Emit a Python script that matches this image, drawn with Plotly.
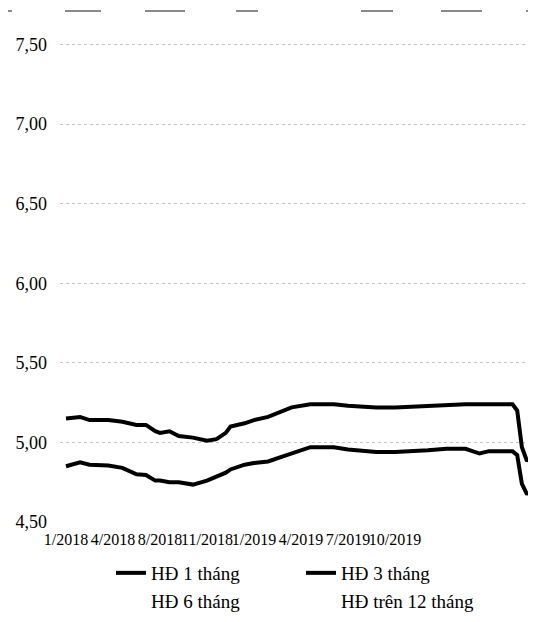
import plotly.graph_objects as go

# ---- data ----
TICK_POS = [0, 10, 20, 30, 40, 50, 60, 70]
TICK_LABELS = ["1/2018", "4/2018", "8/2018", "11/2018", "1/2019", "4/2019", "7/2019", "10/2019"]

PERIOD = [0, 3, 5, 9, 12, 15, 17, 19, 20, 22, 24, 27, 30, 32, 34, 35, 38, 40, 43, 46,
          48, 52, 57, 60, 66, 70, 77, 81, 85, 88, 90, 95, 96, 97, 98, 100]

HD_1_THANG = [4.85, 4.875, 4.86, 4.855, 4.84, 4.80, 4.795, 4.76, 4.76, 4.75, 4.75, 4.735,
              4.76, 4.785, 4.81, 4.83, 4.86, 4.87, 4.88, 4.91, 4.93, 4.97, 4.97, 4.955,
              4.94, 4.94, 4.95, 4.96, 4.96, 4.93, 4.945, 4.945, 4.92, 4.74, 4.68, 4.67]

HD_3_THANG = [5.15, 5.16, 5.14, 5.14, 5.13, 5.11, 5.11, 5.07, 5.06, 5.07, 5.04, 5.03,
              5.01, 5.02, 5.06, 5.10, 5.12, 5.14, 5.16, 5.20, 5.22, 5.24, 5.24, 5.23,
              5.22, 5.22, 5.23, 5.24, 5.24, 5.24, 5.24, 5.24, 5.20, 4.97, 4.89, 4.88]

Y_TICKS = [4.5, 5.0, 5.5, 6.0, 6.5, 7.0, 7.5]

# ---- figure ----
# the page body keeps its default 8px margin, so the figure is made smaller
OFF = 8
W, H = 536 - OFF, 622 - 2 * OFF
ML, MR, MT, MB = 60 - OFF, 0, 0, 92
FONT = "Liberation Serif"

fig = go.Figure()
fig.add_trace(go.Scatter(x=PERIOD, y=HD_1_THANG, mode="lines", name="HĐ 1 tháng",
                         line=dict(color="black", width=4)))
fig.add_trace(go.Scatter(x=PERIOD, y=HD_3_THANG, mode="lines", name="HĐ 3 tháng",
                         line=dict(color="black", width=4)))
# series that are not visible in the scanned reference (legend entries only)
fig.add_trace(go.Scatter(x=[None], y=[None], mode="lines", name="HĐ 6 tháng",
                         line=dict(color="rgba(0,0,0,0)", width=4)))
fig.add_trace(go.Scatter(x=[None], y=[None], mode="lines", name="HĐ trên 12 tháng",
                         line=dict(color="rgba(0,0,0,0)", width=4)))

plot_w = W - ML - MR
plot_h = H - MT - MB

# faint scanned rule along the top edge (decoration), page pixel spans
top_rule = [(0, 12), (65, 101), (145, 185), (236, 258), (361, 393), (441, 482), (526, 536)]
rule_y = 1 - (11 - OFF) / plot_h
shapes = []
for a, b in top_rule:
    shapes.append(dict(type="line", xref="paper", yref="paper",
                       x0=(a - OFF - ML) / plot_w, x1=(b - OFF - ML) / plot_w,
                       y0=rule_y, y1=rule_y,
                       line=dict(color="#8a8a8a", width=2)))

x_px_per_unit = 4.7
x0_px = 66 - OFF
fig.update_layout(
    width=W, height=H,
    margin=dict(l=ML, r=MR, t=MT, b=MB, pad=0, autoexpand=False),
    paper_bgcolor="white", plot_bgcolor="white",
    separators=",.",
    font=dict(family=FONT, size=18, color="black"),
    showlegend=True,
    legend=dict(orientation="h", x=(111 - OFF - ML) / plot_w, xanchor="left",
                y=-(MB + 6) / plot_h, yanchor="bottom",
                entrywidth=145, entrywidthmode="pixels",
                font=dict(family=FONT, size=19, color="black"),
                bgcolor="rgba(0,0,0,0)"),
    shapes=shapes,
)
fig.update_xaxes(
    range=[(ML - x0_px) / x_px_per_unit, (W - MR - x0_px) / x_px_per_unit],
    tickmode="array", tickvals=TICK_POS, ticktext=TICK_LABELS, tickangle=0,
    showgrid=False, zeroline=False, showline=False, ticks="", automargin=False,
    tickfont=dict(family=FONT, size=16, color="black"),
    ticklabelstandoff=6,
)
fig.update_yaxes(
    range=[4.5, 4.5 + plot_h / 159.2],
    tickmode="array", tickvals=Y_TICKS, tickformat=".2f",
    showgrid=True, gridcolor="#c4c4c4", gridwidth=1, griddash="dot",
    zeroline=False, showline=False, ticks="", automargin=False,
    tickfont=dict(family=FONT, size=18, color="black"),
    ticklabelstandoff=12,
)

fig.write_html("out.html")
